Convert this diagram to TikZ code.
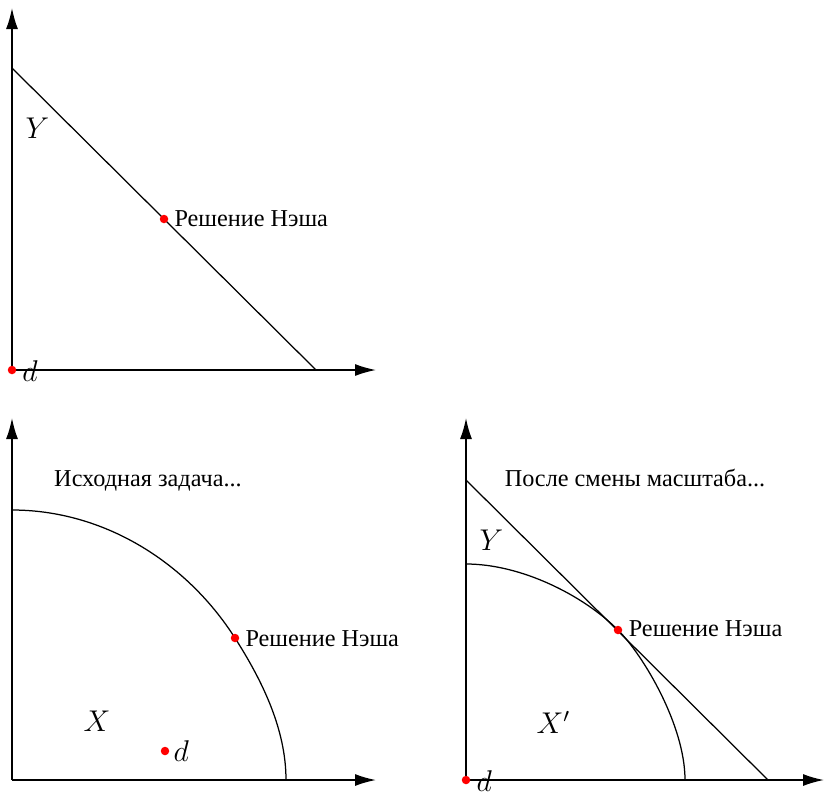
\documentclass[tikz,border=0pt]{standalone}
\usepackage{fontspec}
\setmainfont{Liberation Serif}
\usetikzlibrary{arrows.meta}
\begin{document}
\begin{tikzpicture}[x=0.4pt,y=-0.4pt,
  axis/.style={line width=0.65pt,-{Latex[length=8.4pt,width=4.8pt]}},
  curve/.style={line width=0.5pt},
  reddot/.style={circle,fill=red,inner sep=0pt,minimum size=3.4pt},
  lbl/.style={inner sep=0pt,anchor=base west,font=\fontsize{9.7}{11}\selectfont},
  head/.style={inner sep=0pt,anchor=base,font=\fontsize{9.7}{11}\selectfont},
  mlbl/.style={inner sep=0pt,anchor=base west,font=\fontsize{12}{14}\selectfont}]
\useasboundingbox (0,0) rectangle (824,794);
% ---------- top panel ----------
\coordinate (o1) at (12,370);
\coordinate (y1) at (12,8);
\coordinate (x1) at (376,370);
\coordinate (a1) at (12,68);
\coordinate (b1) at (316,370);
\coordinate (n1c) at (164,219);
\draw[axis] (o1) -- (y1);
\draw[axis] (o1) -- (x1);
\draw[curve] (a1) -- (b1);
\node[reddot] (n1) at (n1c) {};
\node[lbl] (n1l) at (174,226.5) {Решение Нэша};
\node[mlbl] (Y1) at (25,138) {$Y$};
\node[reddot] (d1) at (o1) {};
\node[mlbl] (d1l) at (22,381.5) {$d$};
% ---------- bottom-left panel ----------
\coordinate (o2) at (12,780);
\coordinate (y2) at (12,418);
\coordinate (x2) at (376,780);
\coordinate (a2) at (12,510);
\coordinate (n2c) at (235,638);
\coordinate (b2) at (286,780);
\coordinate (d2c) at (165,751);
\draw[axis] (o2) -- (y2);
\draw[axis] (o2) -- (x2);
\draw[curve] (a2) .. controls (103,510) and (186.1,561.3) .. (n2c)
                  .. controls (262.3,680.8) and (286,729.2) .. (b2);
\node[head] (h2) at (148,486.7) {Исходная задача...};
\node[reddot] (n2) at (n2c) {};
\node[lbl] (n2l) at (245,646.7) {Решение Нэша};
\node[mlbl] (X2) at (83,731.7) {$X$};
\node[reddot] (d2) at (d2c) {};
\node[mlbl] (d2l) at (173,761.7) {$d$};
% ---------- bottom-right panel ----------
\coordinate (o3) at (466,780);
\coordinate (y3) at (466,418);
\coordinate (x3) at (824,780);
\coordinate (a3) at (466,480);
\coordinate (b3) at (768,780);
\coordinate (c3) at (466,564);
\coordinate (n3c) at (618,630);
\coordinate (e3) at (685,780);
\draw[axis] (o3) -- (y3);
\draw[axis] (o3) -- (x3);
\draw[curve] (a3) -- (b3);
\draw[curve] (c3) .. controls (521,564) and (583,595) .. (n3c)
                  .. controls (643,655) and (685,725) .. (e3);
\node[head] (h3) at (635,486.7) {После смены масштаба...};
\node[mlbl] (Y3) at (479,550) {$Y$};
\node[reddot] (n3) at (n3c) {};
\node[lbl] (n3l) at (628.3,636.7) {Решение Нэша};
\node[mlbl] (X3) at (536,733) {$X'$};
\node[reddot] (d3) at (o3) {};
\node[mlbl] (d3l) at (476,791.5) {$d$};
\end{tikzpicture}
\end{document}
